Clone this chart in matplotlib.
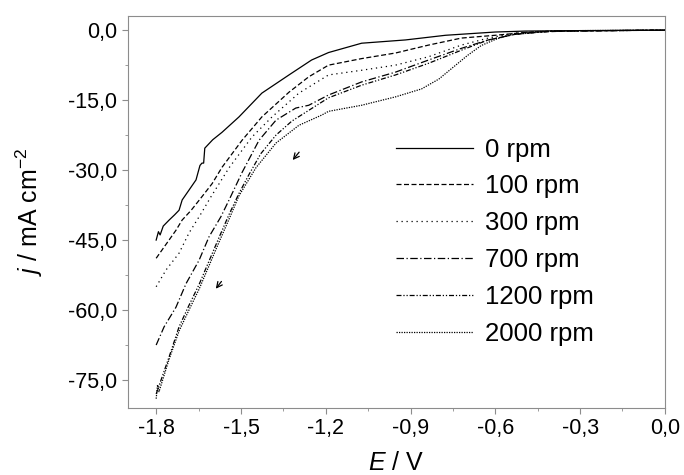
import matplotlib
matplotlib.use('Agg')
import matplotlib.pyplot as plt
from matplotlib.ticker import MultipleLocator, FuncFormatter

plt.rcParams['font.family'] = ['Liberation Sans', 'DejaVu Sans']
plt.rcParams['mathtext.fontset'] = 'custom'
plt.rcParams['mathtext.rm'] = 'Liberation Sans'
plt.rcParams['mathtext.it'] = 'Liberation Sans:italic'

# potential (V) and current density (mA cm^-2)
e_0 = [-1.8, -1.792, -1.786, -1.775, -1.754, -1.735, -1.719, -1.708, -1.684, -1.659,
       -1.645, -1.638, -1.632, -1.628, -1.6, -1.567, -1.507, -1.426, -1.33, -1.25,
       -1.19, -1.073, -0.918, -0.776, -0.6, -0.494, -0.3, 0.0]
j_0 = [-45.0, -43.2, -43.9, -42.0, -40.7, -39.6, -38.6, -36.4, -34.3, -32.1,
       -29.0, -28.5, -28.5, -25.3, -23.5, -21.9, -18.6, -13.5, -9.6, -6.4,
       -4.8, -2.8, -2.1, -1.1, -0.4, -0.2, -0.1, 0.0]

e_100 = [-1.8, -1.772, -1.73, -1.708, -1.676, -1.638, -1.602, -1.567, -1.496, -1.426,
         -1.33, -1.26, -1.19, -1.073, -0.953, -0.836, -0.72, -0.6, -0.494, -0.35, 0.0]
j_100 = [-48.9, -46.5, -42.9, -40.7, -38.6, -35.7, -32.9, -29.4, -23.6, -18.6,
         -13.3, -10.0, -7.5, -6.1, -4.9, -3.2, -1.7, -1.1, -0.5, -0.2, 0.0]

e_300 = [-1.8, -1.765, -1.719, -1.684, -1.641, -1.606, -1.542, -1.461, -1.39, -1.295,
         -1.19, -1.073, -0.953, -0.836, -0.72, -0.625, -0.53, -0.4, 0.0]
j_300 = [-55.0, -51.4, -47.8, -43.5, -39.3, -35.7, -29.5, -22.9, -18.6, -13.5,
         -9.6, -8.6, -7.5, -5.7, -3.2, -1.7, -0.6, -0.2, 0.0]

e_700 = [-1.8, -1.772, -1.73, -1.694, -1.648, -1.613, -1.571, -1.542, -1.496, -1.436,
         -1.376, -1.306, -1.26, -1.19, -1.073, -0.953, -0.836, -0.72, -0.625, -0.53,
         -0.4, 0.0]
j_700 = [-67.5, -63.6, -59.4, -54.3, -49.3, -44.3, -40.0, -36.4, -30.5, -23.6,
         -19.3, -16.7, -16.1, -13.9, -11.1, -9.0, -6.4, -3.9, -2.1, -0.9,
         -0.2, 0.0]

e_1200 = [-1.8, -1.754, -1.719, -1.684, -1.648, -1.613, -1.578, -1.542, -1.507, -1.472,
          -1.43, -1.376, -1.32, -1.25, -1.19, -1.073, -0.953, -0.836, -0.72, -0.625,
          -0.53, -0.4, 0.0]
j_1200 = [-78.0, -70.0, -63.6, -59.0, -54.5, -49.5, -44.5, -39.5, -35.0, -31.0,
          -26.5, -22.5, -19.5, -16.8, -14.5, -11.8, -9.6, -7.1, -4.3, -2.1,
          -0.9, -0.2, 0.0]

e_2000 = [-1.8, -1.795, -1.79, -1.754, -1.719, -1.684, -1.648, -1.613, -1.578, -1.542,
          -1.507, -1.472, -1.447, -1.376, -1.295, -1.214, -1.19, -1.073, -0.953, -0.861,
          -0.8, -0.75, -0.7, -0.65, -0.6, -0.55, -0.45, -0.3, 0.0]
j_2000 = [-79.0, -76.0, -77.5, -70.5, -64.5, -60.0, -55.5, -50.5, -45.5, -40.5,
          -35.5, -32.0, -29.5, -24.2, -20.4, -18.2, -17.4, -16.1, -14.3, -12.6,
          -10.5, -8.0, -5.5, -3.3, -2.0, -1.0, -0.3, -0.1, 0.0]

labels = ['0 rpm', '100 rpm', '300 rpm', '700 rpm', '1200 rpm', '2000 rpm']
styles = ['-', (0, (4, 2)), (0, (1, 3)), (0, (6, 2, 1, 2)),
          (0, (4, 1.5, 1, 1.5, 1, 1.5)), (0, (1, 1))]


def comma_fmt(v, pos):
    return f'{v:.1f}'.replace('.', ',').replace('-0,0', '0,0')


fig = plt.figure(figsize=(6.84, 4.75), dpi=100)
ax = fig.add_axes([0.187, 0.141, 0.785, 0.825])

series = [(e_0, j_0), (e_100, j_100), (e_300, j_300),
          (e_700, j_700), (e_1200, j_1200), (e_2000, j_2000)]
for (e, j), lab, ls in zip(series, labels, styles):
    ax.plot(e, j, color='black', linestyle=ls, linewidth=0.9, label=lab)

# direction arrows
ax.annotate('', xy=(-1.323, -28.3), xytext=(-1.288, -25.7),
            arrowprops=dict(arrowstyle='->', color='black', lw=0.9))
ax.annotate('', xy=(-1.595, -55.9), xytext=(-1.563, -53.4),
            arrowprops=dict(arrowstyle='->', color='black', lw=0.9))

ax.set_xlim(-1.9, 0.0)
ax.set_ylim(-81, 3)
ax.xaxis.set_major_locator(MultipleLocator(0.3))
ax.xaxis.set_minor_locator(MultipleLocator(0.15))
ax.yaxis.set_major_locator(MultipleLocator(15))
ax.yaxis.set_minor_locator(MultipleLocator(7.5))
ax.xaxis.set_major_formatter(FuncFormatter(comma_fmt))
ax.yaxis.set_major_formatter(FuncFormatter(comma_fmt))

for s in ax.spines.values():
    s.set_color('#8c8c8c')
ax.tick_params(which='both', direction='out', colors='#8c8c8c', labelcolor='black',
               labelsize=15.5)
ax.tick_params(which='major', length=4)
ax.tick_params(which='minor', length=2.5)

ax.set_xlabel('$E$ / V', fontsize=18)
ax.set_ylabel('$j$ / mA cm$^{-2}$', fontsize=18)
ax.xaxis.set_label_coords(0.5, -0.11)
ax.yaxis.set_label_coords(-0.155, 0.5)

ax.legend(loc='upper left', bbox_to_anchor=(0.5, 0.69), frameon=False,
          fontsize=18.5, handlelength=3.0, handletextpad=0.45,
          labelspacing=0.5, borderpad=0, borderaxespad=0)

fig.savefig('out.png', dpi=100)
